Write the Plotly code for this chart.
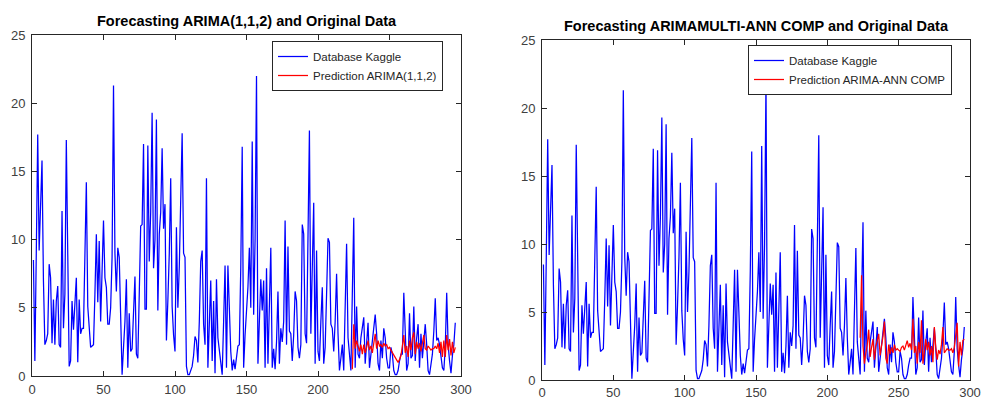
import plotly.graph_objects as go

# Observed series (Database Kaggle), x = 1..296
kaggle = [
    8.5, 1.1, 9.0, 17.7, 9.2, 12.0, 15.8, 7.0, 2.3, 2.6,
    3.1, 8.2, 7.2, 2.4, 5.6, 2.3, 5.5, 6.6, 2.3, 2.1,
    12.1, 3.5, 6.0, 17.3, 9.0, 0.7, 1.1, 5.5, 3.4, 5.0,
    7.2, 1.0, 5.6, 3.1, 3.5, 3.5, 8.0, 14.2, 5.1, 3.5,
    2.1, 2.2, 2.3, 6.0, 10.4, 5.4, 9.9, 4.0, 7.0, 11.4,
    7.2, 6.5, 3.8, 3.8, 5.0, 8.7, 21.3, 9.0, 6.2, 9.4,
    8.7, 4.0, 0.1, 2.1, 4.0, 7.1, 0.6, 4.6, 1.8, 2.0,
    4.5, 7.3, 1.6, 1.3, 6.0, 11.0, 11.1, 17.0, 4.9, 4.9,
    16.9, 8.4, 12.0, 19.3, 7.9, 10.0, 18.8, 4.8, 10.4, 12.0,
    16.7, 10.8, 12.6, 2.6, 5.5, 9.0, 14.5, 5.1, 3.0, 1.8,
    10.9, 5.0, 8.0, 12.0, 17.8, 9.0, 8.7, 0.7, 0.1, 0.1,
    0.4, 0.7, 1.5, 2.9, 2.6, 1.0, 4.0, 8.4, 9.2, 3.8,
    2.3, 14.5, 0.6, 4.0, 7.0, 1.1, 5.5, 0.2, 7.1, 2.8,
    1.8, 1.1, 0.1, 4.0, 8.1, 0.6, 8.1, 5.0, 1.8, 0.4,
    1.2, 0.5, 1.5, 2.2, 2.3, 8.0, 16.8, 0.6, 3.0, 4.8,
    6.5, 9.4, 5.0, 17.2, 4.5, 10.0, 22.0, 0.9, 4.0, 7.1,
    4.8, 7.0, 0.6, 7.9, 0.9, 5.0, 9.4, 0.6, 2.0, 0.5,
    2.5, 6.2, 0.9, 3.5, 2.5, 4.0, 11.4, 2.3, 9.5, 3.3,
    3.1, 1.1, 3.0, 6.2, 5.5, 2.1, 1.3, 2.3, 11.1, 10.4,
    3.1, 2.4, 9.0, 18.0, 3.1, 8.0, 12.7, 0.9, 9.2, 1.8,
    1.1, 4.0, 6.5, 0.9, 2.1, 6.0, 10.1, 9.8, 3.8, 3.5,
    1.8, 4.0, 7.5, 3.1, 0.4, 1.3, 2.3, 0.4, 5.0, 9.7,
    2.8, 1.3, 0.4, 6.0, 11.6, 0.6, 5.1, 1.6, 1.3, 2.8,
    3.5, 4.3, 0.9, 2.4, 3.9, 0.6, 1.6, 2.3, 3.5, 4.5,
    3.1, 0.9, 0.4, 2.6, 1.3, 3.5, 2.8, 1.3, 0.6, 0.6,
    2.1, 1.6, 0.4, 0.1, 0.1, 0.4, 1.1, 1.6, 1.6, 6.1,
    3.3, 0.4, 0.9, 4.6, 1.3, 1.5, 5.1, 1.1, 2.8, 3.8,
    0.6, 3.1, 1.3, 2.5, 3.8, 2.3, 0.4, 0.1, 1.0, 1.6,
    3.3, 5.7, 2.6, 2.8, 2.3, 1.3, 0.6, 0.4, 2.1, 6.1,
    2.3, 1.1, 0.2, 1.5, 2.3, 3.9,
]
kaggle_x = list(range(1, len(kaggle) + 1))

# ARIMA(1,1,2) prediction, x = 224..296
arima = [
    0.5, 3.8, 2.0, 2.6, 2.2, 1.8, 2.3, 1.6, 2.3, 1.7,
    2.1, 2.6, 1.9, 2.2, 1.7, 2.4, 3.1, 2.0, 2.6, 2.2,
    2.3, 2.1, 2.4, 2.2, 2.3, 2.0, 2.1, 1.9, 1.7, 1.5,
    1.3, 1.2, 1.0, 1.2, 1.5, 2.2, 3.0, 1.7, 2.2, 1.4,
    2.6, 1.9, 2.8, 3.2, 1.6, 2.5, 2.0, 2.4, 1.8, 2.4,
    3.0, 2.0, 1.9, 2.2, 2.0, 1.9, 2.0, 2.0, 2.2, 2.0,
    2.4, 1.7, 2.5, 1.4, 2.6, 1.4, 3.0, 1.9, 2.7, 1.5,
    2.5, 1.7, 2.1,
]
arima_x = list(range(224, 224 + len(arima)))

# ARIMA-ANN COMP prediction, x = 223..296
ann = [
    3.1, 7.7, 2.5, 1.2, 2.0, 2.6, 3.7, 1.7, 2.4, 3.0,
    1.5, 2.5, 2.9, 3.4, 1.8, 2.5, 3.2, 4.3, 1.6, 1.2,
    2.6, 1.9, 2.4, 2.0, 2.6, 2.2, 2.3, 2.2, 2.1, 2.4,
    2.5, 2.2, 2.6, 2.9, 2.4, 2.7, 2.2, 4.5, 2.0, 2.5,
    1.2, 2.8, 2.0, 4.4, 1.2, 2.1, 3.0, 2.2, 2.8, 1.8,
    2.5, 1.3, 3.9, 2.4, 1.5, 2.2, 1.9, 2.6, 3.9, 2.0,
    2.2, 2.3, 2.2, 2.2, 2.3, 2.0, 2.4, 3.5, 4.2, 1.0,
    2.8, 1.8, 2.9, 3.0,
]
ann_x = list(range(223, 223 + len(ann)))

titles = ["Forecasting ARIMA(1,1,2) and Original Data",
          "Forecasting ARIMAMULTI-ANN COMP and Original Data"]
x_ticks = [0, 50, 100, 150, 200, 250, 300]
y_ticks = [0, 5, 10, 15, 20, 25]

W, H = 981, 400
FONT = "Liberation Sans, Arial, Helvetica, sans-serif"
AX = "#262626"
TICK_FONT = dict(family=FONT, size=13, color="#404040")
LW = 1.25

fig = go.Figure()
fig.add_trace(go.Scatter(x=kaggle_x, y=kaggle, mode="lines", name="Database Kaggle",
                         line=dict(color="#0000ff", width=LW), xaxis="x", yaxis="y", legend="legend"))
fig.add_trace(go.Scatter(x=arima_x, y=arima, mode="lines", name="Prediction ARIMA(1,1,2)",
                         line=dict(color="#ff0000", width=LW), xaxis="x", yaxis="y", legend="legend"))
fig.add_trace(go.Scatter(x=kaggle_x, y=kaggle, mode="lines", name="Database Kaggle",
                         line=dict(color="#0000ff", width=LW), xaxis="x2", yaxis="y2", legend="legend2"))
fig.add_trace(go.Scatter(x=ann_x, y=ann, mode="lines", name="Prediction ARIMA-ANN COMP",
                         line=dict(color="#ff0000", width=LW), xaxis="x2", yaxis="y2", legend="legend2"))

def xa(x0, x1, anchor, standoff):
    return dict(domain=[x0 / W, x1 / W], range=[0, 300], tickvals=x_ticks, ticks="inside",
                ticklen=5, tickcolor=AX, showline=True, linecolor=AX, linewidth=1,
                mirror="ticks", showgrid=False, zeroline=False, anchor=anchor,
                ticklabelstandoff=standoff, automargin=False, tickfont=TICK_FONT)

def ya(ytop, ybot, anchor):
    return dict(domain=[1 - ybot / H, 1 - ytop / H], range=[0, 25], tickvals=y_ticks,
                ticks="inside", ticklen=5, tickcolor=AX, showline=True, linecolor=AX,
                linewidth=1, mirror="ticks", showgrid=False, zeroline=False, anchor=anchor,
                ticklabelstandoff=3, automargin=False, tickfont=TICK_FONT)

legend_common = dict(bgcolor="white", bordercolor=AX, borderwidth=1, xanchor="left",
                     yanchor="top", font=dict(family=FONT, size=11.5, color="#262626"),
                     tracegroupgap=0)

fig.update_layout(
    width=W, height=H, margin=dict(l=0, r=0, t=0, b=0, pad=0, autoexpand=False),
    paper_bgcolor="white", plot_bgcolor="white",
    xaxis=xa(32, 461, "y", 1), yaxis=ya(35, 376, "x"),
    xaxis2=xa(542, 970, "y2", 0), yaxis2=ya(40, 380, "x2"),
    legend=dict(x=272 / W, y=1 - 41 / H, **legend_common),
    legend2=dict(x=748 / W, y=1 - 45 / H, **legend_common),
    showlegend=True,
    annotations=[
        dict(text="<b>" + titles[0] + "</b>", x=246.5 / W, y=1 - 21 / H, xref="paper",
             yref="paper", showarrow=False, xanchor="center", yanchor="middle",
             font=dict(family=FONT, size=14.5, color="#000000")),
        dict(text="<b>" + titles[1] + "</b>", x=756 / W, y=1 - 26 / H, xref="paper",
             yref="paper", showarrow=False, xanchor="center", yanchor="middle",
             font=dict(family=FONT, size=14.5, color="#000000")),
    ],
)

fig.write_html("out.html", post_script="document.body.style.margin='0';")
